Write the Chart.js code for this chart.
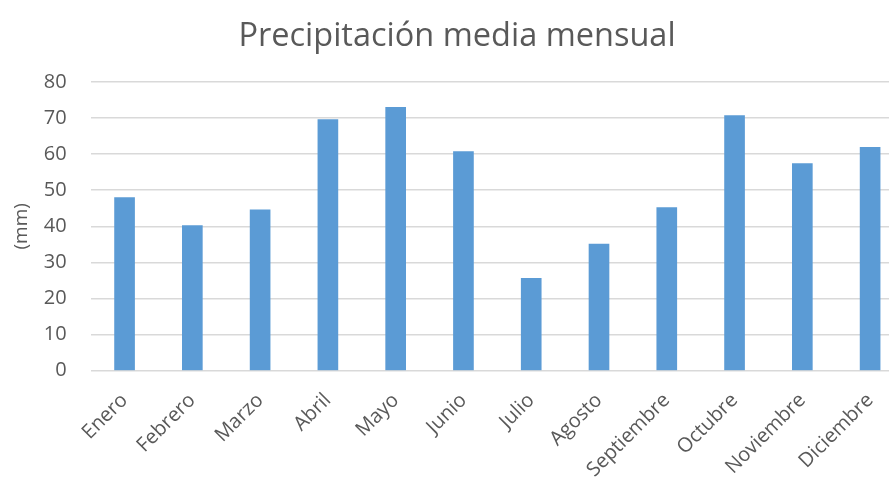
<!DOCTYPE html>
<html>
<head>
<meta charset="utf-8">
<script src="https://cdn.jsdelivr.net/npm/chart.js@4/dist/chart.umd.min.js"></script>
<style>
  html, body { margin: 0; padding: 0; background: #fff; overflow: hidden; }
  #wrap { width: 904px; height: 492px; }
</style>
</head>
<body>
<div id="wrap"><canvas id="lluvia"></canvas></div>
<script>
// precipitación media por mes (mm)
const meses = ['Enero', 'Febrero', 'Marzo', 'Abril', 'Mayo', 'Junio', 'Julio',
               'Agosto', 'Septiembre', 'Octubre', 'Noviembre', 'Diciembre'];
const precipitacion = [48.0, 40.2, 44.6, 69.6, 73.0, 60.7, 25.6, 35.1, 45.2, 70.7, 57.4, 61.9];
const ejeY = [0, 10, 20, 30, 40, 50, 60, 70, 80];

const fuente = "'Open Sans', 'Liberation Sans', sans-serif";

new Chart(document.getElementById('lluvia'), {
    type: 'bar',
    data: {
        labels: meses,
        datasets: [{
            label: 'Precipitación',
            data: precipitacion,
            backgroundColor: '#5B9BD5',
            barThickness: 20
        }]
    },
    options: {
        responsive: true,
        maintainAspectRatio: false,
        animation: false,
        layout: { padding: { left: 10, right: 0, top: 17, bottom: 0 } },
        plugins: {
            legend: { display: false },
            tooltip: { enabled: false },
            title: {
                display: true,
                text: 'Precipitación media mensual',
                color: '#595959',
                font: { family: fuente, size: 32.5, weight: 'normal' },
                padding: { top: 0, bottom: 26 }
            }
        },
        scales: {
            x: {
                grid: { display: false },
                border: { display: false },
                ticks: {
                    color: '#595959',
                    font: { family: fuente, size: 20 },
                    minRotation: 45,
                    maxRotation: 45,
                    padding: 10
                }
            },
            y: {
                min: ejeY[0],
                max: ejeY[ejeY.length - 1],
                afterBuildTicks: (axis) => { axis.ticks = ejeY.map(v => ({ value: v })); },
                grid: { color: '#D9D9D9', lineWidth: 1.5, drawTicks: false },
                border: { display: false },
                ticks: {
                    color: '#595959',
                    font: { family: fuente, size: 20 },
                    padding: 24
                },
                title: {
                    display: true,
                    text: '(mm)',
                    color: '#595959',
                    font: { family: fuente, size: 19 },
                    // pull the tick labels closer to the axis title
                    padding: { top: 0, bottom: -13 }
                }
            }
        }
    }
});
</script>
</body>
</html>
